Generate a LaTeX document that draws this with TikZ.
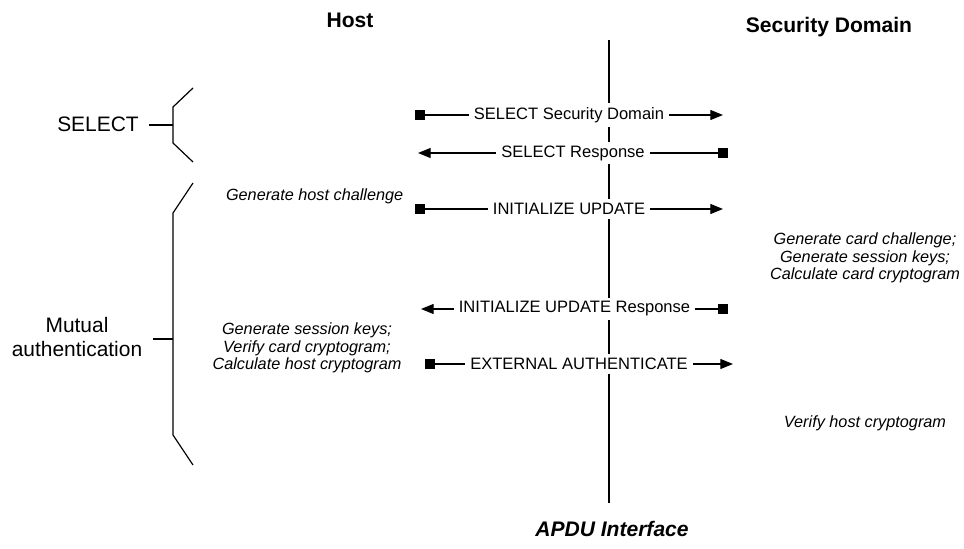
\documentclass[tikz,border=0pt]{standalone}
\usepackage{fontspec}
\setmainfont{Liberation Sans}
\usepackage{tikz}
\usetikzlibrary{arrows.meta, positioning}
\tikzset{
	msgline/.style={
			line width=0.9pt,
			{Square[length=7.5pt,width=7.5pt]}-{Triangle[length=9.5pt,width=7.5pt]}
		},
	msgnode/.style={
			fill=white,
			inner xsep=4pt,
			inner ysep=3pt,
			font=\fontsize{12.4}{14}\selectfont
		},
	notenode/.style={
			align=center,
			font=\fontsize{12.2}{13.2}\selectfont\itshape
		},
	headnode/.style={
			font=\fontsize{15.8}{18}\selectfont\bfseries
		},
	phasenode/.style={
			align=center,
			font=\fontsize{15.7}{18}\selectfont
		},
	bracket/.style={
			line width=0.9pt
		}
}

\begin{document}
\begin{tikzpicture}[x=0.75pt, y=-0.75pt]
\useasboundingbox (0,0) rectangle (964,549);

\node[headnode] (host) at (350,20) {Host};
\node[headnode] (sd) at (829,27) {Security Domain};
\node[headnode] (apdu) at (612,529) {\itshape APDU Interface};

\coordinate (top) at (609,40);
\coordinate (bot) at (609,503);
\draw[line width=0.9pt] (top) -- (bot);

\coordinate (h1) at (415,115);
\coordinate (c1) at (723,115);
\coordinate (h2) at (418,153);
\coordinate (c2) at (728,153);
\coordinate (h3) at (415,209);
\coordinate (c3) at (723,209);
\coordinate (h4) at (421,309);
\coordinate (c4) at (728,309);
\coordinate (h5) at (425,364);
\coordinate (c5) at (733,364);

\draw[msgline] (h1) -- node[msgnode] (m1) {SELECT Security Domain} (c1);
\draw[msgline] (c2) -- node[msgnode] (m2) {SELECT Response} (h2);
\draw[msgline] (h3) -- node[msgnode] (m3) {INITIALIZE UPDATE} (c3);
\draw[msgline] (c4) -- node[msgnode] (m4) {INITIALIZE UPDATE Response} (h4);
\draw[msgline] (h5) -- node[msgnode] (m5) {EXTERNAL AUTHENTICATE} (c5);

\node[notenode, anchor=east] (n1) at (408,196) {Generate host challenge};
\node[notenode] (n2) at (865,258) {Generate card challenge;\\Generate session keys;\\Calculate card cryptogram};
\node[notenode] (n3) at (307,348) {Generate session keys;\\Verify card cryptogram;\\Calculate host cryptogram};
\node[notenode] (n4) at (865,423) {Verify host cryptogram};

\node[phasenode] (p1) at (98,124) {SELECT};
\node[phasenode] (p2) at (77,337) {Mutual\\authentication};

\draw[bracket] (193,88) -- (173,107) -- (173,143) -- (193,162);
\draw[bracket] (p1.east) ++(6,1) coordinate (t1) -- (173,125);
\draw[bracket] (193,183) -- (173,213) -- (173,435) -- (193,465);
\draw[bracket] (153,339) coordinate (t2) -- (173,339);
\end{tikzpicture}
\end{document}
